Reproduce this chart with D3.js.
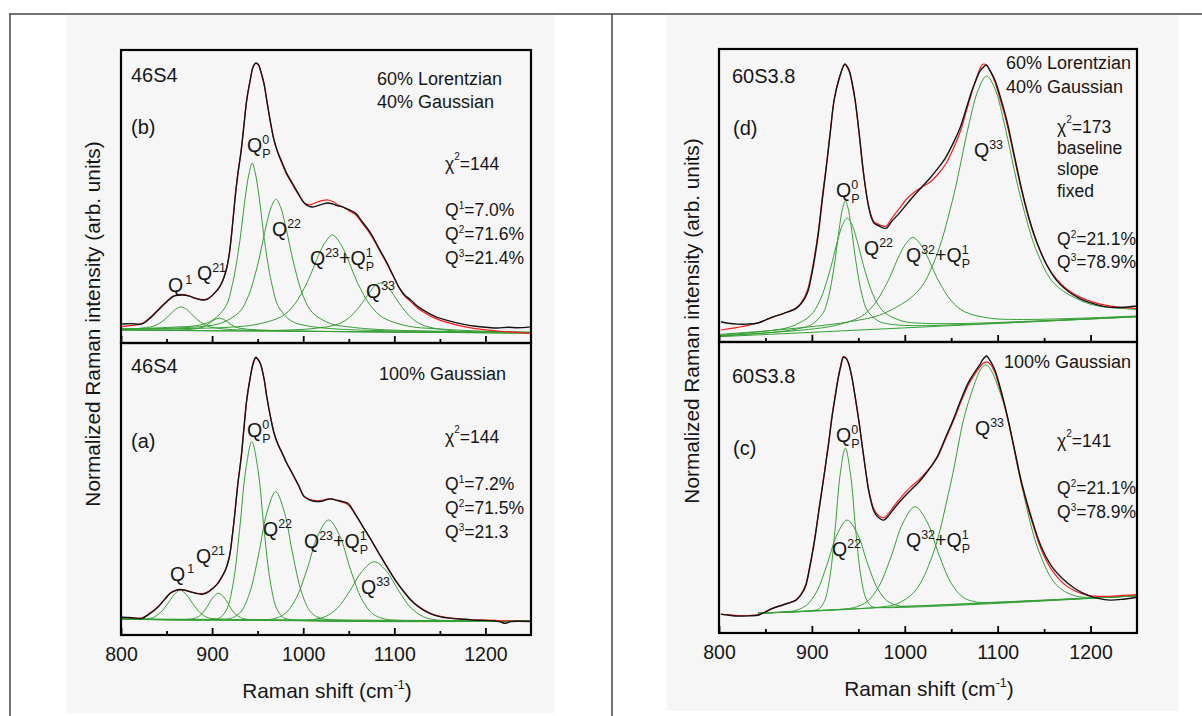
<!DOCTYPE html>
<html><head><meta charset="utf-8">
<script src="https://cdn.jsdelivr.net/npm/d3@7"></script>
<style>
html,body{margin:0;padding:0;background:#fff;}
svg text{font-family:"Liberation Sans",Arial,sans-serif;fill:#161616;}
</style></head>
<body>
<svg id="chart" width="1202" height="716"></svg>
<script>
// ---------------- DATA ----------------
const xDomain = [800, 1250];
const majorTicks = [800, 900, 1000, 1100, 1200];
const minorTicks = [850, 950, 1050, 1150];
const xTitle = "Raman shift (cm";
const yTitle = "Normalized Raman intensity (arb. units)";

// (b) 46S4, 60% Lorentzian / 40% Gaussian
const b_measured = [[801,6.5],[812,6.6],[823,6.5],[832,8.5],[841,11.3],[850,14.0],[858,16.0],[867,16.4],[875,16.0],[880,15.4],[887,14.8],[893,14.7],[898,15.6],[903,17.1],[908,19.0],[912,21.5],[916,25.5],[919,30.7],[922,39],[925,48.8],[928,57],[932,65.9],[935,74.5],[938,82.9],[942,90],[945,94.2],[948,95.6],[951,95.0],[953,93.2],[957,88.5],[960,82.9],[964,75.5],[968,69.3],[972,65.2],[977,61.4],[982,57.8],[988,54.6],[995,50.8],[1001,47.8],[1006,46.7],[1010,46.4],[1016,46.9],[1022,47.5],[1027,47.8],[1033,47.4],[1038,46.8],[1044,46.4],[1050,45.5],[1057,44.4],[1065,41.3],[1074,37.5],[1083,32.4],[1092,27.3],[1099,22.8],[1105,19.1],[1111,16.5],[1118,14.7],[1126,12.4],[1135,10.6],[1145,9.0],[1157,7.8],[1170,6.8],[1187,5.8],[1200,5.4],[1213,5.1],[1225,5.4],[1235,5.2],[1249,5.5]];
const b_fit = [[801,5.6],[812,6.0],[823,6.6],[832,8.7],[841,11.5],[850,14.2],[858,16.1],[867,16.6],[875,16.1],[880,15.5],[887,14.9],[893,14.9],[898,15.7],[903,17.2],[908,19.1],[912,21.6],[916,25.6],[919,30.9],[922,39.2],[925,49],[928,57.2],[932,66],[935,74.6],[938,83],[942,90.1],[945,94.3],[948,95.4],[951,94.8],[953,93.1],[957,88.3],[960,82.7],[964,75.3],[968,69.0],[972,65.0],[977,61.0],[982,57.4],[988,54.2],[995,50.5],[1001,47.9],[1006,47.2],[1010,47.4],[1016,48.2],[1022,48.7],[1027,48.8],[1033,48.2],[1038,47.2],[1044,46.3],[1050,45.2],[1057,43.9],[1065,40.8],[1074,37.0],[1083,32.0],[1092,27.0],[1099,22.7],[1105,19.0],[1111,16.2],[1118,14.1],[1126,11.8],[1135,10.0],[1145,8.4],[1157,7.1],[1170,6.0],[1187,5.0],[1200,4.5],[1213,4.1],[1225,3.8],[1235,3.6],[1249,3.3]];
const b_baseline = [[800,4.4],[1250,3.4]];
const b_Q1 = [[800,4.7],[820,5.0],[835,5.7],[845,7.3],[855,10.1],[860,11.5],[866,12.3],[872,11.5],[877,10.0],[887,7.2],[897,5.6],[912,4.8],[935,4.4],[980,4.1],[1050,3.9],[1250,3.4]];
const b_Q21 = [[800,4.4],[870,4.55],[880,4.8],[890,5.4],[898,6.9],[903,8.0],[908,8.5],[913,8.0],[918,6.9],[926,5.4],[936,4.8],[950,4.5],[1000,4.05],[1250,3.4]];
const b_QP0 = [[800,4.75],[857,5.4],[886,6.1],[901,7.9],[915,12.5],[922,19.6],[929.5,32.8],[937,51.2],[941,58.5],[944,61.4],[947,58.5],[951,51.2],[958.5,32.7],[966,19.5],[973,12.3],[987,7.5],[1002,6.0],[1031,4.9],[1089,4.2],[1250,3.6]];
const b_Q22 = [[800,4.8],[850,5.0],[890,5.7],[910,6.8],[930,10.6],[940,16.2],[950,26.7],[960,40.9],[965,46.5],[970,49.1],[975,46.5],[980,40.8],[990,26.6],[1000,16.0],[1010,10.4],[1030,6.6],[1050,5.5],[1090,4.5],[1250,3.6]];
const b_Q23 = [[800,4.7],[864,4.9],[920,5.4],[948,6.3],[976,9.0],[990,13.0],[1004,20.5],[1018,30.8],[1025,34.8],[1032,36.9],[1039,34.8],[1046,30.8],[1060,20.3],[1074,12.7],[1088,8.6],[1116,5.7],[1144,4.9],[1200,4.0],[1250,3.7]];
const b_Q33 = [[800,4.5],[941,4.15],[989,4.5],[1013,5.0],[1037,6.3],[1049,8.3],[1061,12.1],[1073,17.4],[1079,19.6],[1085,20.5],[1091,19.6],[1097,17.4],[1109,12.0],[1121,8.0],[1133,5.9],[1157,4.4],[1181,3.9],[1250,3.6]];

// (a) 46S4, 100% Gaussian
const a_measured = [[801,6.1],[812,5.9],[823,5.7],[832,7.4],[841,9.7],[848,12.2],[854,14.3],[860,15.3],[865,15.6],[871,15.3],[876,14.8],[883,14.2],[890,14.0],[896,14.8],[901,16.0],[906,17.6],[910,19.5],[915,22.5],[919,26.8],[922,33.5],[925,41.7],[928,51],[932,61.1],[935,71],[938,80.5],[942,88.5],[945,93.0],[948,95.1],[950,94.5],[953,93.0],[957,87.8],[960,81.6],[964,74.8],[968,69.1],[972,65.5],[977,62.2],[982,58.8],[988,55.4],[995,51.2],[1001,47.4],[1007,46.3],[1014,45.7],[1020,45.8],[1026,46.4],[1031,46.6],[1036,46.2],[1042,45.8],[1049,45.1],[1057,41.5],[1065,37.4],[1074,32.8],[1083,28.0],[1092,23.3],[1101,18.8],[1110,15.0],[1118,12.0],[1126,9.8],[1135,8.0],[1143,6.9],[1152,6.1],[1165,5.6],[1178,5.4],[1187,5.1],[1200,5.0],[1210,4.8],[1216,4.5],[1222,4.0],[1228,4.6],[1238,4.7],[1249,4.6]];
const a_fit = [[801,6.0],[812,5.9],[823,5.8],[832,7.5],[841,9.8],[848,12.3],[854,14.3],[860,15.2],[865,15.5],[871,15.2],[876,14.8],[883,14.3],[890,14.2],[896,14.9],[901,16.0],[906,17.6],[910,19.6],[915,22.6],[919,27.0],[922,33.7],[925,41.9],[928,51.2],[932,61.2],[935,71.0],[938,80.4],[942,88.4],[945,92.9],[948,94.9],[950,94.4],[953,92.8],[957,87.6],[960,81.5],[964,74.8],[968,69.2],[972,65.6],[977,62.2],[982,58.7],[988,55.2],[995,51.0],[1001,47.5],[1007,46.5],[1014,46.0],[1020,46.1],[1026,46.5],[1031,46.6],[1036,46.2],[1042,45.6],[1049,44.7],[1057,41.3],[1065,37.3],[1074,32.8],[1083,28.1],[1092,23.4],[1101,18.9],[1110,15.0],[1118,12.1],[1126,9.9],[1135,8.1],[1143,7.0],[1152,6.3],[1165,5.7],[1178,5.4],[1187,5.2],[1200,5.1],[1210,5.0],[1216,4.9],[1222,4.8],[1228,4.8],[1238,4.7],[1249,4.7]];
const a_baseline = [[800,5.5],[1250,4.8]];
const a_Q1 = [[800,5.5],[829,5.55],[836,6.1],[843,7.6],[850.5,10.4],[858,13.7],[865,15.4],[872,13.7],[879.5,10.4],[887,7.6],[894,6.1],[901,5.6],[1250,4.8]];
const a_Q21 = [[800,5.5],[877,5.45],[883,6.0],[889,7.3],[895,9.9],[901,12.9],[907,14.3],[913,12.9],[919,9.9],[925,7.3],[931,6.0],[937,5.45],[1250,4.8]];
const a_QP0 = [[800,5.5],[903,5.4],[909.9,6.2],[916.6,9.2],[923.4,18.2],[930.1,35.8],[936.9,56.5],[943.6,66.2],[950.4,56.5],[957.1,35.8],[963.9,18.2],[970.6,9.2],[977.4,6.2],[984,5.4],[1250,4.8]];
const a_Q22 = [[800,5.5],[913,5.4],[922.3,5.9],[931.8,8.0],[941.3,14.5],[950.8,27.2],[960.3,42.1],[969.8,49.1],[979.3,42.1],[988.8,27.2],[998.3,14.5],[1007.8,8.0],[1017.3,5.9],[1027,5.3],[1250,4.8]];
const a_Q23 = [[800,5.5],[956,5.2],[968,5.6],[980,7.3],[992,12.4],[1004,22.3],[1016,34.0],[1028,39.4],[1040,34.0],[1052,22.3],[1064,12.4],[1076,7.3],[1088,5.6],[1100,5.1],[1250,4.8]];
const a_Q33 = [[800,5.5],[997,5.0],[1010.5,5.3],[1024,6.25],[1037.5,9.2],[1051,15.0],[1064.5,21.8],[1078,25.1],[1091.5,21.8],[1105,15.0],[1118.5,9.2],[1132,6.25],[1145.5,5.2],[1159,4.95],[1250,4.8]];

// (d) 60S3.8, 60% Lorentzian / 40% Gaussian
const d_measured = [[802,6.9],[810,6.4],[820,6.1],[830,6.1],[841,6.4],[850,7.5],[858,8.6],[870,9.8],[883,11.5],[889,13.3],[895,16.6],[901,25],[907,37.1],[911,48],[915.6,59.8],[920,72],[924,82.6],[930,90.5],[935.5,94.9],[940,92.8],[943,89],[946.6,82.6],[951,71],[954.8,59.8],[958,52],[961,46.2],[964,42.5],[967,40.5],[973,39.5],[979.6,38.8],[986,41.2],[994,43.9],[1002,47.0],[1010.5,50.2],[1019,53.1],[1027,55.9],[1035,59.0],[1043.5,62.7],[1052,67.8],[1060,73.5],[1066,79.5],[1072.5,86.0],[1077,89.6],[1080.6,92.3],[1084,93.6],[1087.7,94.5],[1092,92.5],[1097,89.4],[1103,83.5],[1109.7,75.8],[1118,63.5],[1126,51.9],[1134,42.0],[1142.6,33.7],[1152,26.8],[1163,21.2],[1175,17.5],[1188,14.9],[1202,13.2],[1217,12.0],[1233,11.8],[1250,12.3]];
const d_fit = [[802,4.1],[810,4.5],[820,5.0],[830,5.6],[841,6.5],[850,7.5],[858,8.5],[870,9.8],[883,11.6],[889,13.6],[895,17.5],[901,26],[907,38],[911,49],[915.6,60.5],[920,72.5],[924,82.8],[930,90.8],[935.5,94.6],[940,92.5],[943,88.6],[946.6,82.0],[951,70.5],[954.8,59.5],[958,52],[961,46.6],[964,43.0],[967,41.0],[973,40.0],[979.6,39.5],[986,42.2],[994,45.5],[1002,48.8],[1010.5,51.2],[1019,53.0],[1027,54.5],[1035,57.0],[1043.5,60.5],[1052,65.8],[1060,72.0],[1066,78.5],[1072.5,85.5],[1077,90.0],[1080.6,93.0],[1084,94.8],[1087.7,94.6],[1092,92.4],[1097,88.8],[1103,82.5],[1109.7,74.8],[1118,62.8],[1126,51.3],[1134,41.6],[1142.6,33.5],[1152,26.9],[1163,21.6],[1175,17.9],[1188,15.4],[1202,13.7],[1217,12.5],[1233,11.8],[1250,11.4]];
const d_baseline = [[800,1.8],[1250,8.6]];
const d_QP0 = [[800,2.0],[864,3.5],[888,4.7],[900,6.0],[912,9.9],[918,15.5],[924,25.9],[930,39.9],[933,45.5],[936,48.2],[939,45.6],[942,40.0],[948,26.2],[954,16.0],[960,10.6],[972,7.1],[984,6.1],[1008,5.6],[1056,5.9],[1250,8.6]];
const d_Q22 = [[800,2.3],[858,4.0],[878,5.3],[898,8.9],[908,13.7],[918,22.8],[928,35.0],[933,40.0],[938,42.3],[943,40.2],[948,35.3],[958,23.4],[968,14.6],[978,10.1],[998,7.1],[1018,6.4],[1058,6.3],[1098,6.65],[1250,8.7]];
const d_Q32 = [[800,2.1],[840.5,2.9],[896.5,4.3],[924.5,5.6],[952.5,8.6],[966.5,12.6],[980.5,19.9],[994.5,29.8],[1001.5,33.7],[1008.5,35.75],[1015.5,33.9],[1022.5,30.3],[1036.5,20.8],[1050.5,13.9],[1064.5,10.3],[1092.5,8.1],[1120.5,7.7],[1176.5,8.0],[1250,8.9]];
const d_Q33 = [[800,2.6],[866,4.2],[940,6.9],[977,9.7],[1014,17.3],[1032.5,28.1],[1051,47.9],[1069.5,74.9],[1079,86],[1088,90.75],[1097,86.5],[1106.5,75.4],[1125,49.0],[1143.5,29.8],[1162,19.6],[1199,13.0],[1236,11.4],[1250,11.1]];

// (c) 60S3.8, 100% Gaussian
const c_measured = [[802,6.5],[811,6.1],[820,5.8],[832,5.9],[843,6.2],[850,7.3],[858,8.5],[870,9.8],[883,11.3],[888,13.0],[893,15.9],[898,23],[903,32.0],[908,43],[913.5,54.9],[918,65],[921.7,74.3],[925,81],[928,86.9],[931,91.5],[934,94.7],[937,94.3],[939.5,92.7],[943,88],[946.6,81.2],[951,72],[954.8,62.9],[958,55.5],[961,49.1],[964,44.8],[967,41.7],[972,39.6],[977.5,38.8],[983,40.5],[990,43.4],[998,46.3],[1006.5,49.1],[1015,51.8],[1023,54.9],[1029,57.5],[1035,60.6],[1043,66.5],[1052,73.2],[1060,79.8],[1068,85.8],[1075,89.5],[1080.6,92.1],[1084,94.0],[1088,95.2],[1092,93.5],[1097,90.4],[1103,84.0],[1109.7,75.5],[1118,63.3],[1126,51.4],[1136,40.0],[1146.8,29.7],[1158,23.0],[1171.5,18.2],[1183,15.3],[1196,13.1],[1208,11.9],[1221,11.3],[1235,11.6],[1250,12.3]];
const c_fit = [[802,6.4],[811,6.2],[820,6.0],[832,6.0],[843,6.3],[850,7.3],[858,8.5],[870,9.8],[883,11.4],[888,13.2],[893,16.3],[898,23.5],[903,32.5],[908,43.5],[913.5,55.3],[918,65.5],[921.7,74.7],[925,81.5],[928,87.3],[931,92],[934,95.0],[937,94.4],[939.5,92.6],[943,87.8],[946.6,81.0],[951,71.8],[954.8,62.8],[958,55.6],[961,49.5],[964,45.3],[967,42.4],[972,40.3],[977.5,39.6],[983,41.3],[990,44.3],[998,47.4],[1006.5,50.2],[1015,52.6],[1023,55.3],[1029,57.6],[1035,60.2],[1043,66.0],[1052,72.6],[1060,79.0],[1068,85.0],[1075,88.8],[1080.6,91.3],[1084,92.6],[1088,93.2],[1092,92.4],[1097,89.5],[1103,83.3],[1109.7,75.0],[1118,62.8],[1126,50.8],[1136,39.2],[1146.8,28.8],[1158,21.8],[1171.5,16.8],[1183,14.5],[1196,13.0],[1208,12.6],[1221,12.6],[1235,12.9],[1250,13.2]];
const c_baseline = [[842,6.8],[1250,12.8]];
const c_QP0 = [[842,6.8],[903,7.8],[908.5,8.5],[914,11.3],[919.5,19.5],[925,35.7],[930.5,54.6],[936,63.5],[941.5,54.8],[947,36.0],[952.5,20.0],[958,12.0],[963.5,9.3],[969,8.8],[1250,12.8]];
const c_Q22 = [[842,6.8],[872,7.3],[883,7.8],[894,9.5],[905,14.1],[916,23.2],[927,33.8],[938,38.8],[949,34.1],[960,23.8],[971,15.1],[982,10.8],[993,9.4],[1004,9.2],[1250,12.8]];
const c_Q32 = [[842,6.8],[933,8.2],[946,8.8],[959,10.7],[972,15.9],[985,26.0],[998,37.8],[1011,43.4],[1024,38.2],[1037,26.7],[1050,17.1],[1063,12.2],[1076,10.7],[1089,10.5],[1250,12.8]];
const c_Q33 = [[842,6.8],[973,8.9],[992,10.1],[1011,14.4],[1030,26.8],[1049,50.7],[1068,78.8],[1087,92.1],[1106,79.4],[1125,51.8],[1144,28.4],[1163,16.6],[1182,12.9],[1201,12.2],[1250,12.8]];

// ---------------- LAYOUT ----------------
const svg = d3.select("#chart");
const FONT_NAME = 20, FONT_COND = 18, FONT_STAT = 17.5, FONT_Q = 19.5, FONT_TICK = 19.5, FONT_TITLE = 20.8;
const COL_GREEN = "#35a035", COL_RED = "#ff1a1a", COL_BLACK = "#141414";

svg.append("rect").attr("x",67).attr("y",15).attr("width",488).attr("height",698).attr("fill","#f6f6f6");
svg.append("rect").attr("x",667).attr("y",15).attr("width",512).attr("height",696).attr("fill","#f6f6f6");

const panels = [
  {x0:121,x1:531,y0:50,y1:343, measured:b_measured, fit:b_fit, comps:[b_baseline,b_Q1,b_Q21,b_QP0,b_Q22,b_Q23,b_Q33], labels:false},
  {x0:121,x1:531,y0:343,y1:635, measured:a_measured, fit:a_fit, comps:[a_baseline,a_Q1,a_Q21,a_QP0,a_Q22,a_Q23,a_Q33], labels:true},
  {x0:719,x1:1137,y0:49,y1:342, measured:d_measured, fit:d_fit, comps:[d_baseline,d_QP0,d_Q22,d_Q32,d_Q33], labels:false},
  {x0:719,x1:1137,y0:342,y1:633, measured:c_measured, fit:c_fit, comps:[c_baseline,c_QP0,c_Q22,c_Q32,c_Q33], labels:true}
];

panels.forEach((p,i) => {
  const x = d3.scaleLinear().domain(xDomain).range([p.x0,p.x1]);
  const y = d3.scaleLinear().domain([0,100]).range([p.y1,p.y0]);
  const g = svg.append("g");
  const cid = "clip"+i;
  g.append("clipPath").attr("id",cid).append("rect")
    .attr("x",p.x0).attr("y",p.y0).attr("width",p.x1-p.x0).attr("height",p.y1-p.y0);
  const line = d3.line().x(d=>x(d[0])).y(d=>y(d[1])).curve(d3.curveCatmullRom.alpha(0.5));
  const cg = g.append("g").attr("clip-path",`url(#${cid})`);
  p.comps.forEach(c => cg.append("path").attr("d",line(c)).attr("fill","none")
      .attr("stroke",COL_GREEN).attr("stroke-width",1));
  cg.append("path").attr("d",line(p.fit)).attr("fill","none").attr("stroke",COL_RED).attr("stroke-width",1.2);
  cg.append("path").attr("d",line(p.measured)).attr("fill","none").attr("stroke",COL_BLACK).attr("stroke-width",1.4);

  const ax = d3.axisBottom(x).tickValues(majorTicks).tickSizeInner(-7).tickSizeOuter(0).tickPadding(12)
      .tickFormat(p.labels ? d3.format("d") : () => "");
  const axg = g.append("g").attr("transform",`translate(0,${p.y1})`).call(ax);
  axg.select(".domain").remove();
  axg.selectAll("line").attr("stroke","#000").attr("stroke-width",1.8);
  axg.selectAll("text").attr("font-size",FONT_TICK).attr("fill","#161616")
      .attr("font-family","Liberation Sans, Arial, sans-serif");
  const mx = d3.axisBottom(x).tickValues(minorTicks).tickSizeInner(-4).tickSizeOuter(0).tickFormat(()=> "");
  const mg = g.append("g").attr("transform",`translate(0,${p.y1})`).call(mx);
  mg.select(".domain").remove();
  mg.selectAll("line").attr("stroke","#000").attr("stroke-width",1.8);
});

function rich(x, y, segs, size, supSize) {
  let cx = x;
  segs.forEach(s => {
    if (typeof s === "string") {
      const t = svg.append("text").attr("x",cx).attr("y",y).attr("font-size",size).text(s);
      cx += t.node().getComputedTextLength();
    } else {
      let w = 0;
      const ox = cx + (s.dx || 0);
      if (s.sup) { const t = svg.append("text").attr("x",ox).attr("y",y - size*(s.up||0.42)).attr("font-size",supSize).text(s.sup); w = Math.max(w,t.node().getComputedTextLength()); }
      if (s.sub) { const t = svg.append("text").attr("x",ox).attr("y",y + size*0.3).attr("font-size",supSize).text(s.sub); w = Math.max(w,t.node().getComputedTextLength()); }
      cx += w + (s.dx || 0) + (s.after || 0);
    }
  });
}
function plain(x, y, s, size) { svg.append("text").attr("x",x).attr("y",y).attr("font-size",size).text(s); }

// ---- left figure annotations ----
plain(131,82,"46S4",FONT_NAME); plain(131,134,"(b)",FONT_NAME);
plain(377,85,"60% Lorentzian",FONT_COND); plain(377,108,"40% Gaussian",FONT_COND);
rich(445,170,["χ",{sup:"2",up:0.55},"=144"],FONT_STAT,10);
rich(445,216,["Q",{sup:"1"},"=7.0%"],FONT_STAT,10);
rich(445,240,["Q",{sup:"2"},"=71.6%"],FONT_STAT,10);
rich(445,264,["Q",{sup:"3"},"=21.4%"],FONT_STAT,10);
rich(247,152,["Q",{sup:"0",sub:"P"}],FONT_Q,12.5);
rich(272,236,["Q",{sup:"22"}],FONT_Q,12.5);
rich(310,265,["Q",{sup:"23"},"+Q",{sup:"1",sub:"P"}],FONT_Q,12.5);
rich(366,298,["Q",{sup:"33"}],FONT_Q,12.5);
rich(168,292,["Q",{sup:"1",dx:2}],FONT_Q,12.5);
rich(197,280,["Q",{sup:"21"}],FONT_Q,12.5);

plain(131,373,"46S4",FONT_NAME); plain(379,380,"100% Gaussian",FONT_COND); plain(131,448,"(a)",FONT_NAME);
rich(247,437,["Q",{sup:"0",sub:"P"}],FONT_Q,12.5);
rich(445,443,["χ",{sup:"2",up:0.55},"=144"],FONT_STAT,10);
rich(445,490,["Q",{sup:"1"},"=7.2%"],FONT_STAT,10);
rich(445,514,["Q",{sup:"2"},"=71.5%"],FONT_STAT,10);
rich(445,538,["Q",{sup:"3"},"=21.3"],FONT_STAT,10);
rich(263,536,["Q",{sup:"22"}],FONT_Q,12.5);
rich(304,548,["Q",{sup:"23"},"+Q",{sup:"1",sub:"P"}],FONT_Q,12.5);
rich(361,594,["Q",{sup:"33"}],FONT_Q,12.5);
rich(170,581,["Q",{sup:"1",dx:2}],FONT_Q,12.5);
rich(196,563,["Q",{sup:"21"}],FONT_Q,12.5);

// ---- right figure annotations ----
plain(732,83,"60S3.8",FONT_NAME); plain(733,135,"(d)",FONT_NAME);
plain(1006,69,"60% Lorentzian",FONT_COND); plain(1006,93,"40% Gaussian",FONT_COND);
rich(1057,133,["χ",{sup:"2",up:0.55},"=173"],FONT_STAT,10);
plain(1057,154,"baseline",FONT_STAT); plain(1057,175,"slope",FONT_STAT); plain(1057,197,"fixed",FONT_STAT);
rich(1057,245,["Q",{sup:"2"},"=21.1%"],FONT_STAT,10);
rich(1057,268,["Q",{sup:"3"},"=78.9%"],FONT_STAT,10);
rich(836,197,["Q",{sup:"0",sub:"P"}],FONT_Q,12.5);
rich(864,255,["Q",{sup:"22"}],FONT_Q,12.5);
rich(906,262,["Q",{sup:"32"},"+Q",{sup:"1",sub:"P"}],FONT_Q,12.5);
rich(974,157,["Q",{sup:"33"}],FONT_Q,12.5);

plain(732,383,"60S3.8",FONT_NAME); plain(1004,368,"100% Gaussian",FONT_COND); plain(733,455,"(c)",FONT_NAME);
rich(836,442,["Q",{sup:"0",sub:"P"}],FONT_Q,12.5);
rich(1057,447,["χ",{sup:"2",up:0.55},"=141"],FONT_STAT,10);
rich(1057,494,["Q",{sup:"2"},"=21.1%"],FONT_STAT,10);
rich(1057,518,["Q",{sup:"3"},"=78.9%"],FONT_STAT,10);
rich(975,435,["Q",{sup:"33"}],FONT_Q,12.5);
rich(832,556,["Q",{sup:"22"}],FONT_Q,12.5);
rich(906,547,["Q",{sup:"32"},"+Q",{sup:"1",sub:"P"}],FONT_Q,12.5);

panels.forEach(p => {
  svg.append("rect").attr("x",p.x0).attr("y",p.y0).attr("width",p.x1-p.x0).attr("height",p.y1-p.y0)
     .attr("fill","none").attr("stroke","#000").attr("stroke-width",2.2);
});

function xTitleAt(cx, y) {
  const t = svg.append("text").attr("y",y).attr("font-size",FONT_TITLE).attr("text-anchor","middle").attr("x",cx);
  t.append("tspan").text(xTitle);
  t.append("tspan").attr("font-size",12.5).attr("dy",-9).text("-1");
  t.append("tspan").attr("dy",9).text(")");
}
xTitleAt(327,698); xTitleAt(929,696);
[[100,324],[699,321]].forEach(([bx,cy]) => {
  svg.append("text").attr("transform",`translate(${bx},${cy}) rotate(-90)`).attr("text-anchor","middle")
     .attr("font-size",FONT_TITLE).text(yTitle);
});

svg.append("line").attr("x1",9).attr("x2",1202).attr("y1",14).attr("y2",14).attr("stroke","#444").attr("stroke-width",1.5);
svg.append("line").attr("x1",10).attr("x2",10).attr("y1",14).attr("y2",716).attr("stroke","#444").attr("stroke-width",1.5);
svg.append("line").attr("x1",612).attr("x2",612).attr("y1",14).attr("y2",716).attr("stroke","#444").attr("stroke-width",1.5);
</script>
</body></html>
